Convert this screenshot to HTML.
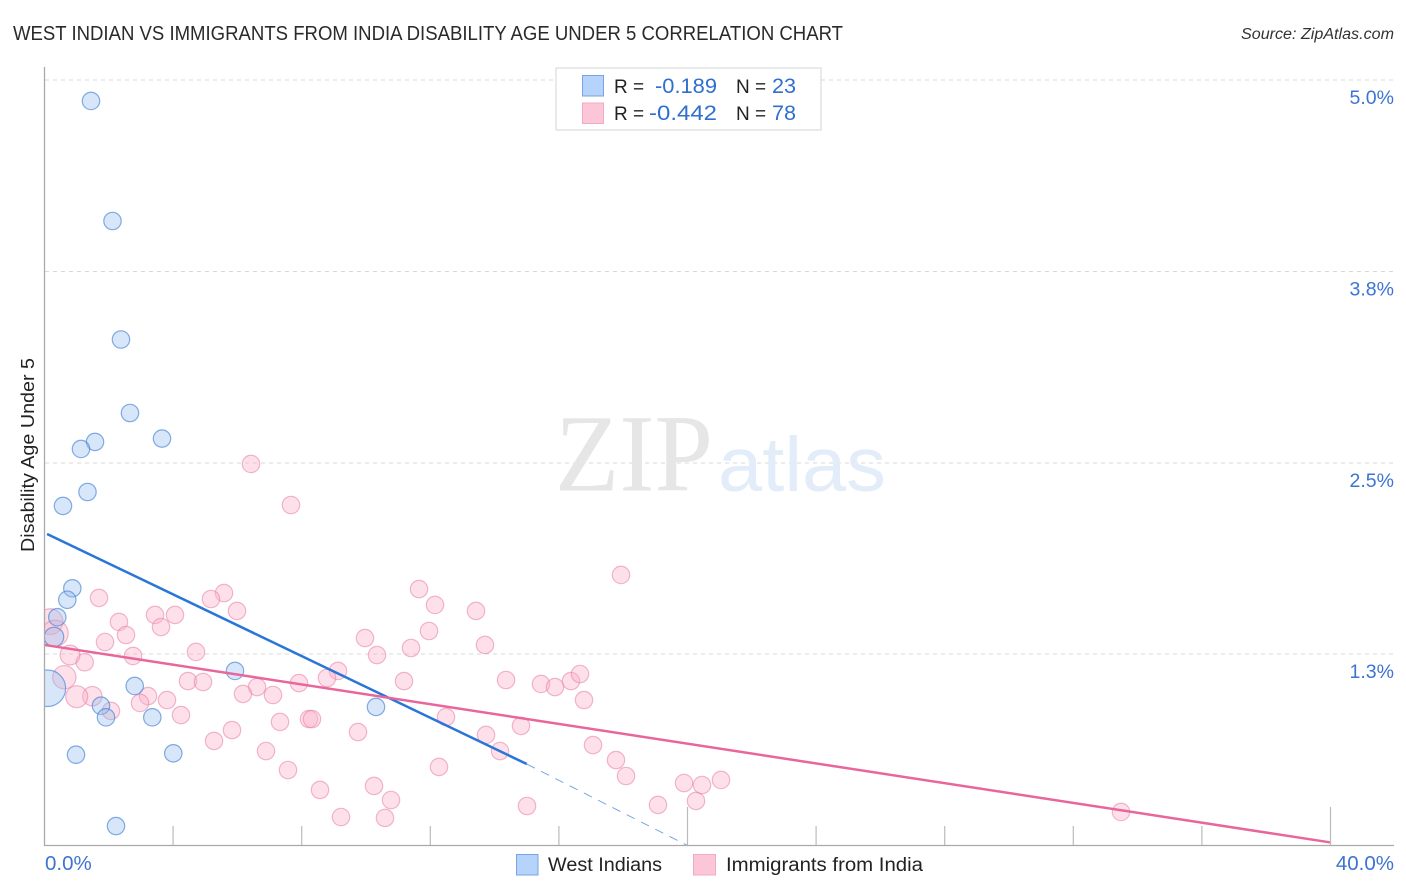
<!DOCTYPE html>
<html lang="en">
<head>
<meta charset="utf-8">
<title>West Indian vs Immigrants from India Disability Age Under 5 Correlation Chart</title>
<style>
html,body{margin:0;padding:0;background:#fff;width:1406px;height:892px;overflow:hidden}
svg{display:block;font-family:"Liberation Sans",sans-serif}
</style>
</head>
<body>
<svg id="chart" xmlns="http://www.w3.org/2000/svg" width="1406" height="892" viewBox="0 0 1406 892">
  <defs>
    <clipPath id="plot-clip"><rect x="45" y="60" width="1350" height="786"/></clipPath>
  </defs>
  <text x="13" y="40" font-size="20" fill="#2a2a2a" textLength="830" lengthAdjust="spacingAndGlyphs">WEST INDIAN VS IMMIGRANTS FROM INDIA DISABILITY AGE UNDER 5 CORRELATION CHART</text>
  <text x="1241" y="39" font-size="15.5" font-style="italic" fill="#333" textLength="153" lengthAdjust="spacingAndGlyphs">Source: ZipAtlas.com</text>
  <text transform="translate(34 552) rotate(-90)" font-size="18" fill="#222" textLength="194" lengthAdjust="spacingAndGlyphs">Disability Age Under 5</text>

  <g id="grid"></g>

  <g>
    <text x="555" y="490.5" font-family="'Liberation Serif',serif" font-size="110" fill="#e6e6e6" textLength="158" lengthAdjust="spacingAndGlyphs">ZIP</text>
    <text x="718" y="491" font-size="77" fill="#e3ecf9" textLength="168" lengthAdjust="spacingAndGlyphs">atlas</text>
  </g>

  <g id="pink-points" clip-path="url(#plot-clip)"></g>
  <g id="blue-points" clip-path="url(#plot-clip)"></g>
  <g id="trends"></g>
  <g id="axes"></g>
  <g id="labels"></g>

  <g>
    <rect x="556" y="68" width="265" height="62" fill="#fff" stroke="#ddd" stroke-width="1.2"/>
    <rect x="582.5" y="75.5" width="21" height="20.5" fill="#b6d3fb" stroke="#75a5e2" stroke-width="1"/>
    <rect x="582.5" y="103" width="21" height="20.5" fill="#fcc6d9" stroke="#f3a9c2" stroke-width="1"/>
    <text x="614" y="93" font-size="19" fill="#222">R =</text>
    <text x="655" y="93" font-size="21" fill="#2f6fd0" textLength="62" lengthAdjust="spacingAndGlyphs">-0.189</text>
    <text x="736" y="93" font-size="19" fill="#222">N =</text>
    <text x="772" y="93" font-size="21" fill="#2f6fd0" textLength="24" lengthAdjust="spacingAndGlyphs">23</text>
    <text x="614" y="120" font-size="19" fill="#222">R =</text>
    <text x="649" y="120" font-size="21" fill="#2f6fd0" textLength="68" lengthAdjust="spacingAndGlyphs">-0.442</text>
    <text x="736" y="120" font-size="19" fill="#222">N =</text>
    <text x="772" y="120" font-size="21" fill="#2f6fd0" textLength="24" lengthAdjust="spacingAndGlyphs">78</text>
  </g>

  <g>
    <rect x="516.5" y="854.5" width="21.5" height="20.5" fill="#b6d3fb" stroke="#75a5e2" stroke-width="1"/>
    <text x="548" y="871" font-size="19" fill="#222" textLength="114" lengthAdjust="spacingAndGlyphs">West Indians</text>
    <rect x="693.5" y="854.5" width="22" height="20.5" fill="#fcc6d9" stroke="#f3a9c2" stroke-width="1"/>
    <text x="726" y="871" font-size="19" fill="#222" textLength="197" lengthAdjust="spacingAndGlyphs">Immigrants from India</text>
  </g>
</svg>
<script>
const blueX = [1.446,2.115,2.379,2.659,1.571,1.135,3.655,1.337,0.575,0.865,0.709,0.398,0.295,0.09,2.806,1.757,1.913,3.353,0.98,4.006,2.224,5.925,10.311];
const blueY = [4.863,4.079,3.305,2.825,2.636,2.59,2.658,2.309,2.218,1.68,1.605,1.491,1.362,1.027,1.042,0.913,0.837,0.837,0.593,0.602,0.127,1.14,0.905];
const blueWeight = [1,1,1,1,1,1,1,1,1,1,1,1,1.25,4.4,1,1,1,1,1,1,1,1,1];

const pinkX = [6.423,7.667,17.932,11.649,12.146,13.421,5.583,5.179,5.988,1.695,3.437,4.059,2.317,3.624,2.535,1.882,2.753,4.712,9.969,11.96,11.4,10.342,13.701,1.25,0.793,9.129,8.787,7.916,11.182,4.463,4.93,6.61,6.174,7.107,3.219,3.81,1.487,1.002,0.616,2.97,2.068,4.246,12.488,14.821,8.227,8.32,7.325,5.832,5.272,9.751,13.733,14.168,6.89,17.061,17.776,18.087,12.271,7.574,8.569,10.249,10.778,9.222,10.591,15.008,19.082,20.264,19.891,20.451,21.042,33.484,14.355,15.443,15.879,16.376,16.656,16.781,0.171,0.327];
const pinkY = [2.492,2.224,1.767,1.675,1.571,1.532,1.649,1.61,1.532,1.617,1.506,1.506,1.46,1.427,1.375,1.329,1.238,1.264,1.355,1.401,1.29,1.244,1.31,1.197,1.244,1.14,1.094,1.061,1.074,1.074,1.068,1.035,0.99,0.983,0.976,0.95,0.975,0.972,1.099,0.931,0.879,0.852,0.839,0.781,0.826,0.826,0.807,0.754,0.683,0.741,0.722,0.617,0.617,0.656,0.558,0.454,0.513,0.493,0.363,0.389,0.297,0.186,0.18,0.258,0.265,0.291,0.408,0.395,0.428,0.219,1.081,1.055,1.035,1.074,1.12,0.95,1.462,1.386];
const pinkWeight = [1,1,1,1,1,1,1,1,1,1,1,1,1,1,1,1,1,1,1,1,1,1,1,1,1.3,1,1,1,1,1,1,1,1,1,1,1,1.25,1.6,1.8,1,1,1,1,1,1,1,1,1,1,1,1,1,1,1,1,1,1,1,1,1,1,1,1,1,1,1,1,1,1,1,1,1,1,1,1,1,2.2,2.3];

const blueTrendX = [0.08,15];
const blueTrendY = [2.035,0.532];
const blueDashX = [15,20];
const blueDashY = [0.532,0];
const pinkTrendX = [0,40];
const pinkTrendY = [1.31,0.02];

const xTicks = [4,8,12,16,20,24,28,32,36,40];
const xMajorTicks = [20,40];
const yTicks = [1.25,2.5,3.75,5];
const yTickLabels = ['1.3%','2.5%','3.8%','5.0%'];
const xEndLabels = ['0.0%','40.0%'];

const NS = 'http://www.w3.org/2000/svg';
const xScale = v => 44.5 + v * 32.15;
const yScale = v => 845.5 - v * 153.1;
const rScale = w => 8.7 * Math.sqrt(w);

function make(tag, attrs, parent) {
  const el = document.createElementNS(NS, tag);
  for (const k in attrs) el.setAttribute(k, attrs[k]);
  parent.appendChild(el);
  return el;
}

const grid = document.getElementById('grid');
yTicks.forEach(t => {
  const l = make('line', {x1: 45, x2: 1394, y1: yScale(t), y2: yScale(t), stroke: '#d8d8d8', 'stroke-width': 1, 'stroke-dasharray': '4 4', 'shape-rendering': 'crispEdges'}, grid);
  
  
});

const pinkGroup = document.getElementById('pink-points');
pinkX.forEach((x, i) => {
  const c = make('circle', {cx: xScale(x), cy: yScale(pinkY[i]), r: rScale(pinkWeight[i]), fill: 'rgba(249,178,203,0.4)', stroke: 'rgba(232,125,165,0.55)', 'stroke-width': 1.2}, pinkGroup);
  
  
});

const blueGroup = document.getElementById('blue-points');
blueX.forEach((x, i) => {
  const c = make('circle', {cx: xScale(x), cy: yScale(blueY[i]), r: rScale(blueWeight[i]), fill: 'rgba(150,190,240,0.38)', stroke: 'rgba(60,125,210,0.62)', 'stroke-width': 1.2}, blueGroup);
  
  
});

const trends = document.getElementById('trends');
const blueDash = make('line', {x1: xScale(blueDashX[0]), y1: yScale(blueDashY[0]), x2: xScale(blueDashX[1]), y2: yScale(blueDashY[1]), stroke: '#7aa6e2', 'stroke-width': 1, 'stroke-dasharray': '9 7'}, trends);


const blueLine = make('line', {x1: xScale(blueTrendX[0]), y1: yScale(blueTrendY[0]), x2: xScale(blueTrendX[1]), y2: yScale(blueTrendY[1]), stroke: '#2a75d8', 'stroke-width': 2.5}, trends);


const pinkLine = make('line', {x1: xScale(pinkTrendX[0]), y1: yScale(pinkTrendY[0]), x2: xScale(pinkTrendX[1]), y2: yScale(pinkTrendY[1]), stroke: '#e9669a', 'stroke-width': 2.5}, trends);



const axes = document.getElementById('axes');
xTicks.forEach(t => {
  const tall = xMajorTicks.includes(t);
  const tick = make('line', {x1: xScale(t), x2: xScale(t), y1: tall ? 807 : 826, y2: 845.5, stroke: '#bbb', 'stroke-width': 1.2}, axes);
  
  
});
const yAxis = make('line', {x1: 44.5, x2: 44.5, y1: 67, y2: 846, stroke: '#aaa', 'stroke-width': 1.3}, axes);


const xAxis = make('line', {x1: 44, x2: 1394, y1: 845.5, y2: 845.5, stroke: '#aaa', 'stroke-width': 1.3}, axes);



const labels = document.getElementById('labels');
yTicks.forEach((t, i) => {
  const lab = make('text', {x: 1394, y: yScale(t) + 24, 'text-anchor': 'end', 'font-size': 19.5, fill: '#3d74d2'}, labels);
  lab.textContent = yTickLabels[i];
  
  
});
const xStart = make('text', {x: 45, y: 870, 'font-size': 20.5, fill: '#3d74d2'}, labels);
xStart.textContent = xEndLabels[0];


const xEnd = make('text', {x: 1394, y: 870, 'text-anchor': 'end', 'font-size': 20.5, fill: '#3d74d2'}, labels);
xEnd.textContent = xEndLabels[1];


</script>
</body>
</html>
